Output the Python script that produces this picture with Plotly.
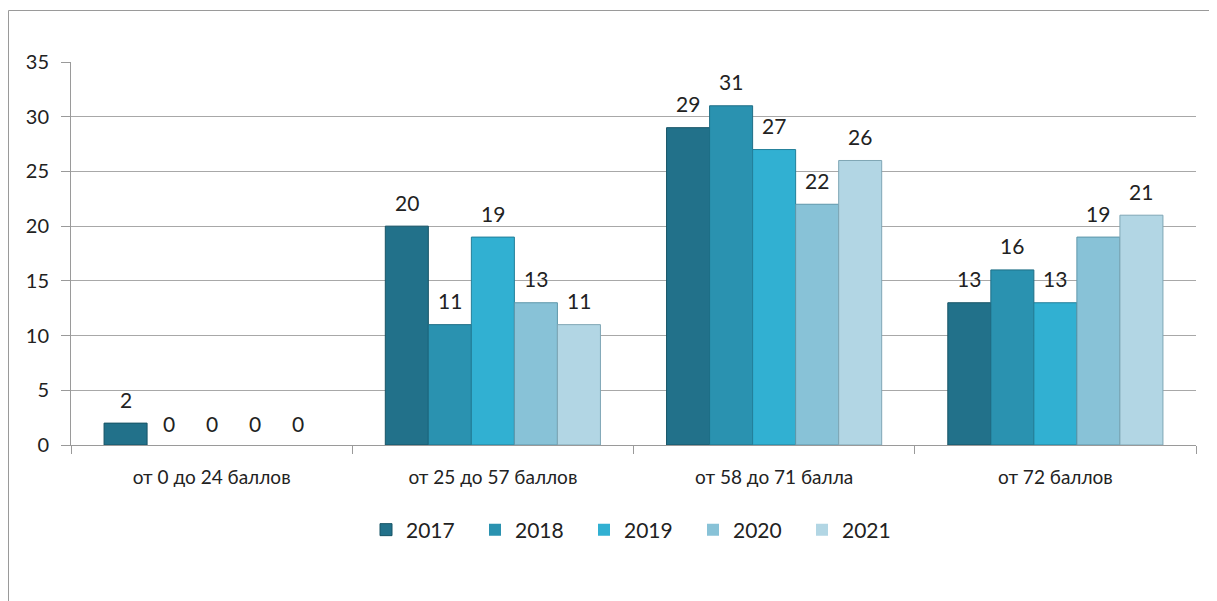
import plotly.graph_objects as go

categories = ["от 0 до 24 баллов", "от 25 до 57 баллов", "от 58 до 71 балла", "от 72 баллов"]
years = ["2017", "2018", "2019", "2020", "2021"]
values_2017 = [2, 20, 29, 13]
values_2018 = [0, 11, 31, 16]
values_2019 = [0, 19, 27, 13]
values_2020 = [0, 13, 22, 19]
values_2021 = [0, 11, 26, 21]
series = [values_2017, values_2018, values_2019, values_2020, values_2021]
y_ticks = [0, 5, 10, 15, 20, 25, 30, 35]

colors = ["#22718A", "#2A92B0", "#31B0D2", "#88C2D7", "#B2D6E4"]
edges = ["#175466", "#1E6E86", "#237F99", "#5E97AA", "#7FA6B5"]

FONT = "Lato"
L, T, R, B = 63, 54, 29, 164
W, H = 1217, 601
plot_w = W - L - R
plot_h = H - T - B
BARGAP = 0.235
bar_w = plot_w / len(categories) * (1 - BARGAP) / len(years)

fig = go.Figure()
annotations = []
for i, (name, vals, c, e) in enumerate(zip(years, series, colors, edges)):
    fig.add_trace(go.Bar(
        x=categories, y=vals, name=name,
        marker=dict(color=c, line=dict(color=e, width=[0 if v == 0 else 1 for v in vals])),
        hoverinfo="x+y+name",
    ))
    for cat, v in zip(categories, vals):
        annotations.append(dict(
            x=cat, y=v, xref="x", yref="y", text=str(v), showarrow=False,
            xshift=(i - (len(years) - 1) / 2) * bar_w, yshift=24 if v else 22,
            xanchor="center", yanchor="middle",
            font=dict(family=FONT, size=21, color="#222222"),
        ))

fig.update_layout(
    width=W, height=H,
    margin=dict(l=L, r=R, t=T, b=B),
    paper_bgcolor="white", plot_bgcolor="white",
    barmode="group", bargap=BARGAP, bargroupgap=0,
    font=dict(family=FONT, size=20, color="#222222"),
    showlegend=True,
    legend=dict(orientation="h", x=(358 - L) / plot_w, xanchor="left",
                y=(T + plot_h - 522) / plot_h, yanchor="middle",
                font=dict(family=FONT, size=21, color="#222222"),
                itemwidth=30, entrywidth=64, entrywidthmode="pixels",
                traceorder="normal"),
    xaxis=dict(showline=True, linecolor="#9A9A9A", linewidth=1,
               ticks="outside", tickson="boundaries", ticklen=8, tickcolor="#9A9A9A",
               tickfont=dict(family=FONT, size=19, color="#222222"),
               ticklabelstandoff=15, showgrid=False),
    yaxis=dict(range=[0, 35], tickvals=y_ticks, showline=True, linecolor="#9A9A9A", linewidth=1,
               ticks="outside", ticklen=9, tickcolor="#9A9A9A",
               gridcolor="#A8A8A8", gridwidth=1,
               tickfont=dict(family=FONT, size=20, color="#222222"),
               ticklabelstandoff=8, zeroline=False),
    annotations=annotations,
    shapes=[dict(type="rect", xref="paper", yref="paper",
                 x0=(0.5 - L) / plot_w, x1=1.05, y0=-0.6, y1=(T + plot_h - 2.5) / plot_h,
                 line=dict(color="#9A9A9A", width=1), fillcolor="rgba(0,0,0,0)", layer="below")],
)

fig.write_html("out.html")
